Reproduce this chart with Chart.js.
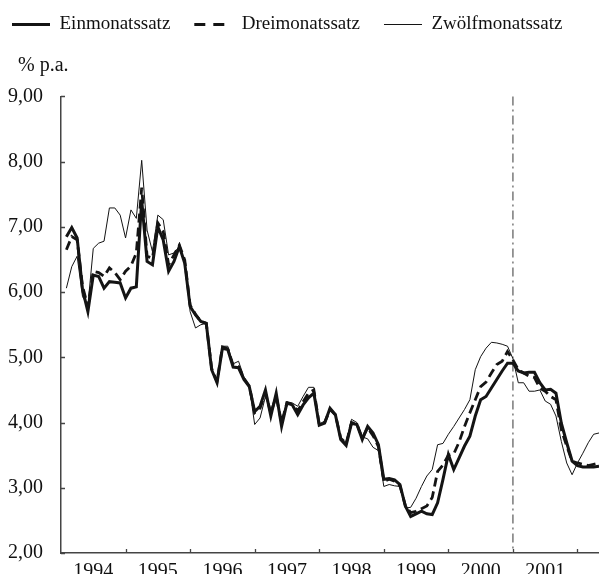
<!DOCTYPE html>
<html>
<head>
<meta charset="utf-8">
<script src="https://cdn.jsdelivr.net/npm/chart.js@4/dist/chart.umd.min.js"></script>
<style>
  html, body { margin: 0; padding: 0; background: #fff; }
  #wrap { width: 599px; height: 575px; }
</style>
</head>
<body>
<div id="wrap"><canvas id="chart" width="599" height="575"></canvas></div>
<script>
/* Geldmarktsätze, Monatswerte Jan 1994 – Apr 2002 */

// month-end positions, Jan 1994 .. Apr 2002
const FIRST_YEAR = 1994;
const months = [];
for (let i = 0; i < 100; i++) months.push(FIRST_YEAR + (i + 1) / 12);

const yearTicks = [1994, 1995, 1996, 1997, 1998, 1999, 2000, 2001, 2002];
const yTicks = [2, 3, 4, 5, 6, 7, 8, 9];
const markerYear = 2001; // dash-dot line

const einmonat = [
  6.85, 6.99, 6.83, 6.04, 5.70, 6.26, 6.24, 6.06, 6.16, 6.15, 6.14, 5.91,
  6.06, 6.08, 7.41, 6.47, 6.42, 7.00, 6.80, 6.32, 6.47, 6.70, 6.44, 5.78,
  5.65, 5.55, 5.52, 4.81, 4.61, 5.14, 5.12, 4.85, 4.84, 4.66, 4.55, 4.17,
  4.25, 4.50, 4.10, 4.45, 3.94, 4.30, 4.27, 4.12, 4.27, 4.38, 4.45, 3.96,
  3.99, 4.22, 4.12, 3.74, 3.65, 3.99, 3.97, 3.74, 3.94, 3.84, 3.66, 3.13,
  3.14, 3.12, 3.05, 2.72, 2.56, 2.60, 2.64, 2.60, 2.59, 2.77, 3.13, 3.51,
  3.28, 3.46, 3.64, 3.79, 4.10, 4.35, 4.40, 4.53, 4.66, 4.79, 4.91, 4.91,
  4.79, 4.76, 4.77, 4.77, 4.61, 4.50, 4.51, 4.45, 3.99, 3.69, 3.41, 3.34,
  3.32, 3.32, 3.32, 3.33
];
const dreimonat = [
  6.65, 6.85, 6.80, 6.09, 5.78, 6.32, 6.30, 6.24, 6.37, 6.30, 6.19, 6.32,
  6.40, 6.60, 7.60, 6.55, 6.52, 7.06, 6.93, 6.42, 6.57, 6.72, 6.49, 5.80,
  5.66, 5.55, 5.52, 4.83, 4.63, 5.16, 5.13, 4.88, 4.86, 4.68, 4.56, 4.15,
  4.22, 4.45, 4.15, 4.40, 4.00, 4.30, 4.28, 4.18, 4.32, 4.45, 4.50, 3.97,
  4.00, 4.20, 4.12, 3.76, 3.68, 4.00, 3.98, 3.76, 3.92, 3.80, 3.63, 3.10,
  3.13, 3.10, 3.03, 2.73, 2.62, 2.64, 2.68, 2.72, 2.85, 3.25, 3.35, 3.50,
  3.52, 3.70, 3.94, 4.15, 4.35, 4.55, 4.62, 4.76, 4.89, 4.94, 5.09, 4.96,
  4.81, 4.76, 4.71, 4.69, 4.53, 4.48, 4.40, 4.35, 3.89, 3.64, 3.41, 3.38,
  3.36, 3.34, 3.36, 3.38
];
const zwoelfmonat = [
  6.06, 6.39, 6.55, 5.93, 5.80, 6.67, 6.75, 6.78, 7.29, 7.29, 7.18, 6.83,
  7.26, 7.13, 8.02, 6.95, 6.62, 7.18, 7.11, 6.57, 6.60, 6.70, 6.47, 5.70,
  5.45, 5.50, 5.52, 4.80, 4.62, 5.17, 5.17, 4.90, 4.94, 4.70, 4.55, 3.97,
  4.07, 4.40, 4.15, 4.40, 4.00, 4.32, 4.30, 4.25, 4.40, 4.54, 4.54, 3.98,
  4.02, 4.20, 4.10, 3.75, 3.70, 4.05, 4.00, 3.78, 3.75, 3.62, 3.57, 3.02,
  3.05, 3.03, 3.02, 2.69, 2.70, 2.84, 3.02, 3.18, 3.28, 3.66, 3.68, 3.82,
  3.94, 4.07, 4.20, 4.35, 4.81, 5.01, 5.14, 5.23, 5.22, 5.20, 5.17, 4.98,
  4.61, 4.61, 4.48, 4.48, 4.50, 4.33, 4.28, 4.10, 3.71, 3.38, 3.20, 3.38,
  3.53, 3.69, 3.82, 3.84
];

const SERIF = '"Liberation Serif", "Times New Roman", Times, serif';
const INK = "#111";
const AXIS = "#444";

const pts = (vals) => vals.map((v, i) => ({ x: months[i], y: v }));

/* inward tick marks, unit label and the dash-dot marker */
const decor = {
  id: "decor",
  beforeDatasetsDraw(chart) {
    const { ctx, chartArea: a, scales: { x } } = chart;
    const px = x.getPixelForValue(markerYear);
    ctx.save();
    ctx.strokeStyle = "#707070"; ctx.lineWidth = 1.4;
    ctx.setLineDash([9, 4, 2, 4]);
    ctx.beginPath(); ctx.moveTo(px, a.top); ctx.lineTo(px, a.bottom); ctx.stroke();
    ctx.restore();
  },
  afterDraw(chart) {
    const { ctx, chartArea: a, scales: { x, y } } = chart;
    ctx.save();
    ctx.strokeStyle = AXIS; ctx.lineWidth = 1.3;
    ctx.beginPath();
    for (const v of yTicks) {
      const py = Math.round(y.getPixelForValue(v)) + 0.5;
      ctx.moveTo(a.left, py); ctx.lineTo(a.left + 4, py);
    }
    for (const v of yearTicks.slice(1)) {
      const px = Math.round(x.getPixelForValue(v)) + 0.5;
      ctx.moveTo(px, a.bottom); ctx.lineTo(px, a.bottom - 4);
    }
    ctx.stroke();
    ctx.fillStyle = INK;
    ctx.font = `20px ${SERIF}`;
    ctx.textBaseline = "alphabetic"; ctx.textAlign = "left";
    ctx.fillText("% p.a.", 18, 71);
    ctx.restore();
  },
};

new Chart(document.getElementById("chart"), {
  type: "line",
  data: {
    datasets: [
      { label: "Einmonatssatz", data: pts(einmonat), borderColor: "#141414", backgroundColor: "#141414",
        borderWidth: 3, pointRadius: 0, tension: 0 },
      { label: "Dreimonatssatz", data: pts(dreimonat), borderColor: "#141414", backgroundColor: "#141414",
        borderWidth: 2.8, borderDash: [9, 5], pointRadius: 0, tension: 0 },
      { label: "Zwölfmonatssatz", data: pts(zwoelfmonat), borderColor: "#141414", backgroundColor: "#141414",
        borderWidth: 1, pointRadius: 0, tension: 0 },
    ],
  },
  options: {
    responsive: false,
    devicePixelRatio: 1,
    animation: false,
    layout: { padding: { left: -12, top: -9, right: 0, bottom: 0 } },
    plugins: {
      legend: {
        position: "top", align: "start",
        labels: {
          color: INK, font: { family: SERIF, size: 19 }, padding: 24,
          usePointStyle: true, pointStyle: "line", pointStyleWidth: 38,
          generateLabels(chart) {
            const items = Chart.defaults.plugins.legend.labels.generateLabels(chart);
            items[1].lineDash = [11, 8];
            return items;
          },
        },
      },
      title: { display: true, text: "", weight: 500, font: { family: SERIF, size: 19 }, padding: { top: 15, bottom: 14.6 } },
      tooltip: { enabled: false },
    },
    scales: {
      x: {
        type: "linear", min: FIRST_YEAR, max: months[months.length - 1],
        afterBuildTicks: (s) => { s.ticks = yearTicks.map((v) => ({ value: v })); },
        afterFit: (s) => { s.height = 21; },
        grid: { display: false },
        border: { display: true, color: AXIS, width: 1.5 },
        ticks: {
          autoSkip: false, maxRotation: 0, padding: -1, labelOffset: 32.3,
          color: INK, font: { family: SERIF, size: 20 },
          callback: (v) => (v < yearTicks[yearTicks.length - 1] ? String(v) : ""),
        },
      },
      y: {
        min: 2, max: 9,
        afterBuildTicks: (s) => { s.ticks = yTicks.map((v) => ({ value: v })); },
        afterFit: (s) => { s.width = 73; },
        grid: { display: false },
        border: { display: true, color: AXIS, width: 1.5 },
        ticks: {
          padding: 10, color: INK, font: { family: SERIF, size: 20 },
          callback: (v) => v.toFixed(2).replace(".", ","),
        },
      },
    },
  },
  plugins: [decor],
});
</script>
</body>
</html>
